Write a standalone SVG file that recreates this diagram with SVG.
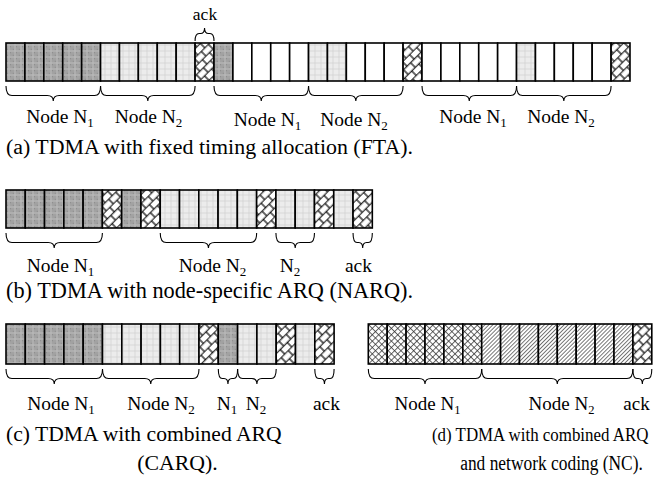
<svg xmlns="http://www.w3.org/2000/svg" width="653" height="479" viewBox="0 0 653 479">
<style>
.s{stroke:#000;stroke-width:1.6}
.d{fill:url(#pd)}.l{fill:url(#pl)}.a{fill:url(#pa)}.w{fill:#fff}.x{fill:url(#px)}.h{fill:url(#ph)}
.br{fill:none;stroke:#000;stroke-width:1.1}
text{font-family:"Liberation Serif","Times New Roman",serif;font-size:19.5px;fill:#000}
.m{text-anchor:middle}
.sub{font-size:13px}
.cap{font-size:21.8px}
.sm{font-size:17.5px}
.sd{font-size:19px}
.sd .sub{font-size:12.5px}
</style>
<defs>
<pattern id="pd" width="6" height="6" patternUnits="userSpaceOnUse"><rect width="6" height="6" fill="#a2a2a2"/><path d="M0 3H6M3 0V6" stroke="#c0c0c0" stroke-width="0.8"/><rect x="0.8" y="0.8" width="1" height="1" fill="#8a8a8a"/><rect x="4" y="4.2" width="1" height="1" fill="#8a8a8a"/></pattern>
<pattern id="pl" width="6" height="6" patternUnits="userSpaceOnUse"><rect width="6" height="6" fill="#ececec"/><path d="M0 3H6M3 0V6" stroke="#d2d2d2" stroke-width="0.8"/></pattern>
<pattern id="pa" width="10" height="13" patternUnits="userSpaceOnUse" patternTransform="rotate(-45)"><rect width="10" height="13" fill="#fff"/><path d="M0 3.25H10M0 9.75H10M1 3.25V9.75M6 9.75V13M6 0V3.25" stroke="#000" stroke-width="1.2"/></pattern>
<pattern id="px" width="4.5" height="4.5" patternUnits="userSpaceOnUse" patternTransform="rotate(45)"><rect width="4.5" height="4.5" fill="#fff"/><path d="M0 0.5H4.5M0.5 0V4.5" stroke="#333" stroke-width="0.75"/></pattern>
<pattern id="ph" width="2.8" height="2.8" patternUnits="userSpaceOnUse" patternTransform="rotate(-45)"><rect width="2.8" height="2.8" fill="#fff"/><path d="M0 1.4H2.8" stroke="#555" stroke-width="0.8"/></pattern>
</defs>

<g id="row-a" class="s">
<rect class="d" x="6" y="43" width="18.91" height="38"/><rect class="d" x="24.91" y="43" width="18.91" height="38"/><rect class="d" x="43.82" y="43" width="18.91" height="38"/><rect class="d" x="62.73" y="43" width="18.91" height="38"/><rect class="d" x="81.64" y="43" width="18.91" height="38"/>
<rect class="l" x="100.55" y="43" width="18.91" height="38"/><rect class="l" x="119.45" y="43" width="18.91" height="38"/><rect class="l" x="138.36" y="43" width="18.91" height="38"/><rect class="l" x="157.27" y="43" width="18.91" height="38"/><rect class="l" x="176.18" y="43" width="18.91" height="38"/>
<rect class="a" x="195.09" y="43" width="18.91" height="38"/>
<rect class="d" x="214" y="43" width="18.91" height="38"/><rect class="w" x="232.91" y="43" width="18.91" height="38"/><rect class="w" x="251.82" y="43" width="18.91" height="38"/><rect class="w" x="270.73" y="43" width="18.91" height="38"/><rect class="w" x="289.64" y="43" width="18.91" height="38"/>
<rect class="l" x="308.55" y="43" width="18.91" height="38"/><rect class="l" x="327.45" y="43" width="18.91" height="38"/><rect class="w" x="346.36" y="43" width="18.91" height="38"/><rect class="w" x="365.27" y="43" width="18.91" height="38"/><rect class="w" x="384.18" y="43" width="18.91" height="38"/>
<rect class="a" x="403.09" y="43" width="18.91" height="38"/>
<rect class="w" x="422" y="43" width="18.91" height="38"/><rect class="w" x="440.91" y="43" width="18.91" height="38"/><rect class="w" x="459.82" y="43" width="18.91" height="38"/><rect class="w" x="478.73" y="43" width="18.91" height="38"/><rect class="w" x="497.64" y="43" width="18.91" height="38"/>
<rect class="l" x="516.55" y="43" width="18.91" height="38"/><rect class="w" x="535.45" y="43" width="18.91" height="38"/><rect class="w" x="554.36" y="43" width="18.91" height="38"/><rect class="w" x="573.27" y="43" width="18.91" height="38"/><rect class="w" x="592.18" y="43" width="18.91" height="38"/>
<rect class="a" x="611.09" y="43" width="18.91" height="38"/>
</g>

<g id="row-b" class="s">
<rect class="d" x="6" y="190" width="19.28" height="38"/><rect class="d" x="25.28" y="190" width="19.28" height="38"/><rect class="d" x="44.56" y="190" width="19.28" height="38"/><rect class="d" x="63.84" y="190" width="19.28" height="38"/><rect class="d" x="83.12" y="190" width="19.28" height="38"/>
<rect class="a" x="102.4" y="190" width="19.28" height="38"/><rect class="d" x="121.68" y="190" width="19.28" height="38"/><rect class="a" x="140.96" y="190" width="19.28" height="38"/>
<rect class="l" x="160.24" y="190" width="19.28" height="38"/><rect class="l" x="179.52" y="190" width="19.28" height="38"/><rect class="l" x="198.8" y="190" width="19.28" height="38"/><rect class="l" x="218.08" y="190" width="19.28" height="38"/><rect class="l" x="237.36" y="190" width="19.28" height="38"/>
<rect class="a" x="256.64" y="190" width="19.28" height="38"/><rect class="l" x="275.92" y="190" width="19.28" height="38"/><rect class="l" x="295.2" y="190" width="19.28" height="38"/><rect class="a" x="314.48" y="190" width="19.28" height="38"/><rect class="l" x="333.76" y="190" width="19.28" height="38"/><rect class="a" x="353.04" y="190" width="19.28" height="38"/>
</g>

<g id="row-c" class="s">
<rect class="d" x="6" y="324" width="19.3" height="40"/><rect class="d" x="25.3" y="324" width="19.3" height="40"/><rect class="d" x="44.6" y="324" width="19.3" height="40"/><rect class="d" x="63.9" y="324" width="19.3" height="40"/><rect class="d" x="83.2" y="324" width="19.3" height="40"/>
<rect class="l" x="102.5" y="324" width="19.3" height="40"/><rect class="l" x="121.8" y="324" width="19.3" height="40"/><rect class="l" x="141.1" y="324" width="19.3" height="40"/><rect class="l" x="160.4" y="324" width="19.3" height="40"/><rect class="l" x="179.7" y="324" width="19.3" height="40"/>
<rect class="a" x="199" y="324" width="19.3" height="40"/><rect class="d" x="218.3" y="324" width="19.3" height="40"/><rect class="l" x="237.6" y="324" width="19.3" height="40"/><rect class="l" x="256.9" y="324" width="19.3" height="40"/><rect class="a" x="276.2" y="324" width="19.3" height="40"/><rect class="l" x="295.5" y="324" width="19.3" height="40"/><rect class="a" x="314.8" y="324" width="19.3" height="40"/>
</g>

<g id="row-d" class="s">
<rect class="x" x="368.3" y="324" width="18.9" height="40"/><rect class="x" x="387.2" y="324" width="18.9" height="40"/><rect class="x" x="406.1" y="324" width="18.9" height="40"/><rect class="x" x="425" y="324" width="18.9" height="40"/><rect class="x" x="443.9" y="324" width="18.9" height="40"/><rect class="x" x="462.8" y="324" width="18.9" height="40"/>
<rect class="h" x="481.7" y="324" width="18.9" height="40"/><rect class="h" x="500.6" y="324" width="18.9" height="40"/><rect class="h" x="519.5" y="324" width="18.9" height="40"/><rect class="h" x="538.4" y="324" width="18.9" height="40"/><rect class="h" x="557.3" y="324" width="18.9" height="40"/><rect class="h" x="576.2" y="324" width="18.9" height="40"/><rect class="h" x="595.1" y="324" width="18.9" height="40"/><rect class="h" x="614" y="324" width="18.9" height="40"/>
<rect class="a" x="632.9" y="324" width="18.9" height="40"/>
</g>

<g id="braces" class="br">
<path d="M195.09 41Q195.09 33.5 199.09 33.5H200.55Q204.55 33.5 204.55 28Q204.55 33.5 208.55 33.5H210Q214 33.5 214 41"/>
<path d="M6 86Q6 95.5 12 95.5H47.27Q53.27 95.5 53.27 101Q53.27 95.5 59.27 95.5H94.55Q100.55 95.5 100.55 86"/>
<path d="M100.55 86Q100.55 95.5 106.55 95.5H141.82Q147.82 95.5 147.82 101Q147.82 95.5 153.82 95.5H189.09Q195.09 95.5 195.09 86"/>
<path d="M214 86Q214 95.5 220 95.5H255.27Q261.27 95.5 261.27 101Q261.27 95.5 267.27 95.5H302.55Q308.55 95.5 308.55 86"/>
<path d="M308.55 86Q308.55 95.5 314.55 95.5H349.82Q355.82 95.5 355.82 101Q355.82 95.5 361.82 95.5H397.09Q403.09 95.5 403.09 86"/>
<path d="M422 86Q422 95.5 428 95.5H463.27Q469.27 95.5 469.27 101Q469.27 95.5 475.27 95.5H510.55Q516.55 95.5 516.55 86"/>
<path d="M516.55 86Q516.55 95.5 522.55 95.5H557.82Q563.82 95.5 563.82 101Q563.82 95.5 569.82 95.5H605.09Q611.09 95.5 611.09 86"/>
<path d="M6 233Q6 242.5 12 242.5H48.2Q54.2 242.5 54.2 248Q54.2 242.5 60.2 242.5H96.4Q102.4 242.5 102.4 233"/>
<path d="M160.24 233Q160.24 242.5 166.24 242.5H202.44Q208.44 242.5 208.44 248Q208.44 242.5 214.44 242.5H250.64Q256.64 242.5 256.64 233"/>
<path d="M275.92 233Q275.92 242.5 280.92 242.5H290.2Q295.2 242.5 295.2 248Q295.2 242.5 300.2 242.5H309.48Q314.48 242.5 314.48 233"/>
<path d="M353.04 233Q353.04 242.5 357.04 242.5H358.68Q362.68 242.5 362.68 248Q362.68 242.5 366.68 242.5H368.32Q372.32 242.5 372.32 233"/>
<path d="M6 369Q6 378.5 12 378.5H48.25Q54.25 378.5 54.25 384Q54.25 378.5 60.25 378.5H96.5Q102.5 378.5 102.5 369"/>
<path d="M102.5 369Q102.5 378.5 108.5 378.5H144.75Q150.75 378.5 150.75 384Q150.75 378.5 156.75 378.5H193Q199 378.5 199 369"/>
<path d="M218.3 369Q218.3 378.5 222.3 378.5H223.95Q227.95 378.5 227.95 384Q227.95 378.5 231.95 378.5H233.6Q237.6 378.5 237.6 369"/>
<path d="M237.6 369Q237.6 378.5 242.6 378.5H251.9Q256.9 378.5 256.9 384Q256.9 378.5 261.9 378.5H271.2Q276.2 378.5 276.2 369"/>
<path d="M314.8 369Q314.8 378.5 318.8 378.5H320.45Q324.45 378.5 324.45 384Q324.45 378.5 328.45 378.5H330.1Q334.1 378.5 334.1 369"/>
<path d="M368.3 369Q368.3 378.5 374.3 378.5H419Q425 378.5 425 384Q425 378.5 431 378.5H475.7Q481.7 378.5 481.7 369"/>
<path d="M481.7 369Q481.7 378.5 487.7 378.5H551.3Q557.3 378.5 557.3 384Q557.3 378.5 563.3 378.5H626.9Q632.9 378.5 632.9 369"/>
<path d="M632.9 369Q632.9 378.5 636.9 378.5H638.35Q642.35 378.5 642.35 384Q642.35 378.5 646.35 378.5H647.8Q651.8 378.5 651.8 369"/>
</g>

<g id="labels">
<text class="m sm" x="205" y="20">ack</text>
<text class="m" x="60" y="123">Node N<tspan class="sub" dy="4">1</tspan></text>
<text class="m" x="148.5" y="123">Node N<tspan class="sub" dy="4">2</tspan></text>
<text class="m" x="267.5" y="125.5">Node N<tspan class="sub" dy="4">1</tspan></text>
<text class="m" x="354" y="125.5">Node N<tspan class="sub" dy="4">2</tspan></text>
<text class="m" x="473" y="123">Node N<tspan class="sub" dy="4">1</tspan></text>
<text class="m" x="561" y="123">Node N<tspan class="sub" dy="4">2</tspan></text>
<text class="cap" x="6" y="154" style="font-size:21.9px">(a) TDMA with fixed timing allocation (FTA).</text>
<text class="m" x="60.5" y="271.5">Node N<tspan class="sub" dy="4">1</tspan></text>
<text class="m" x="212.5" y="271.5">Node N<tspan class="sub" dy="4">2</tspan></text>
<text class="m" x="290" y="271.5">N<tspan class="sub" dy="4">2</tspan></text>
<text class="m" x="358.5" y="271.5">ack</text>
<text class="cap" x="6" y="298" style="font-size:22.3px">(b) TDMA with node-specific ARQ (NARQ).</text>
<text class="m" x="61" y="410">Node N<tspan class="sub" dy="4">1</tspan></text>
<text class="m" x="161" y="410">Node N<tspan class="sub" dy="4">2</tspan></text>
<text class="m" x="227" y="410">N<tspan class="sub" dy="4">1</tspan></text>
<text class="m" x="256" y="410">N<tspan class="sub" dy="4">2</tspan></text>
<text class="m" x="326.5" y="410">ack</text>
<text class="cap" x="6" y="441" style="font-size:21.6px">(c) TDMA with combined ARQ</text>
<text class="m cap" x="177.5" y="470">(CARQ).</text>
<text class="m sd" x="427.5" y="410">Node N<tspan class="sub" dy="4">1</tspan></text>
<text class="m sd" x="561.5" y="410">Node N<tspan class="sub" dy="4">2</tspan></text>
<text class="m sd" x="636.5" y="410">ack</text>
<text transform="translate(432 441) scale(1 1.17)" style="font-size:16.9px">(d) TDMA with combined ARQ</text>
<text transform="translate(551.5 470) scale(1 1.15)" class="m" style="font-size:17.4px">and network coding (NC).</text>
</g>
</svg>
